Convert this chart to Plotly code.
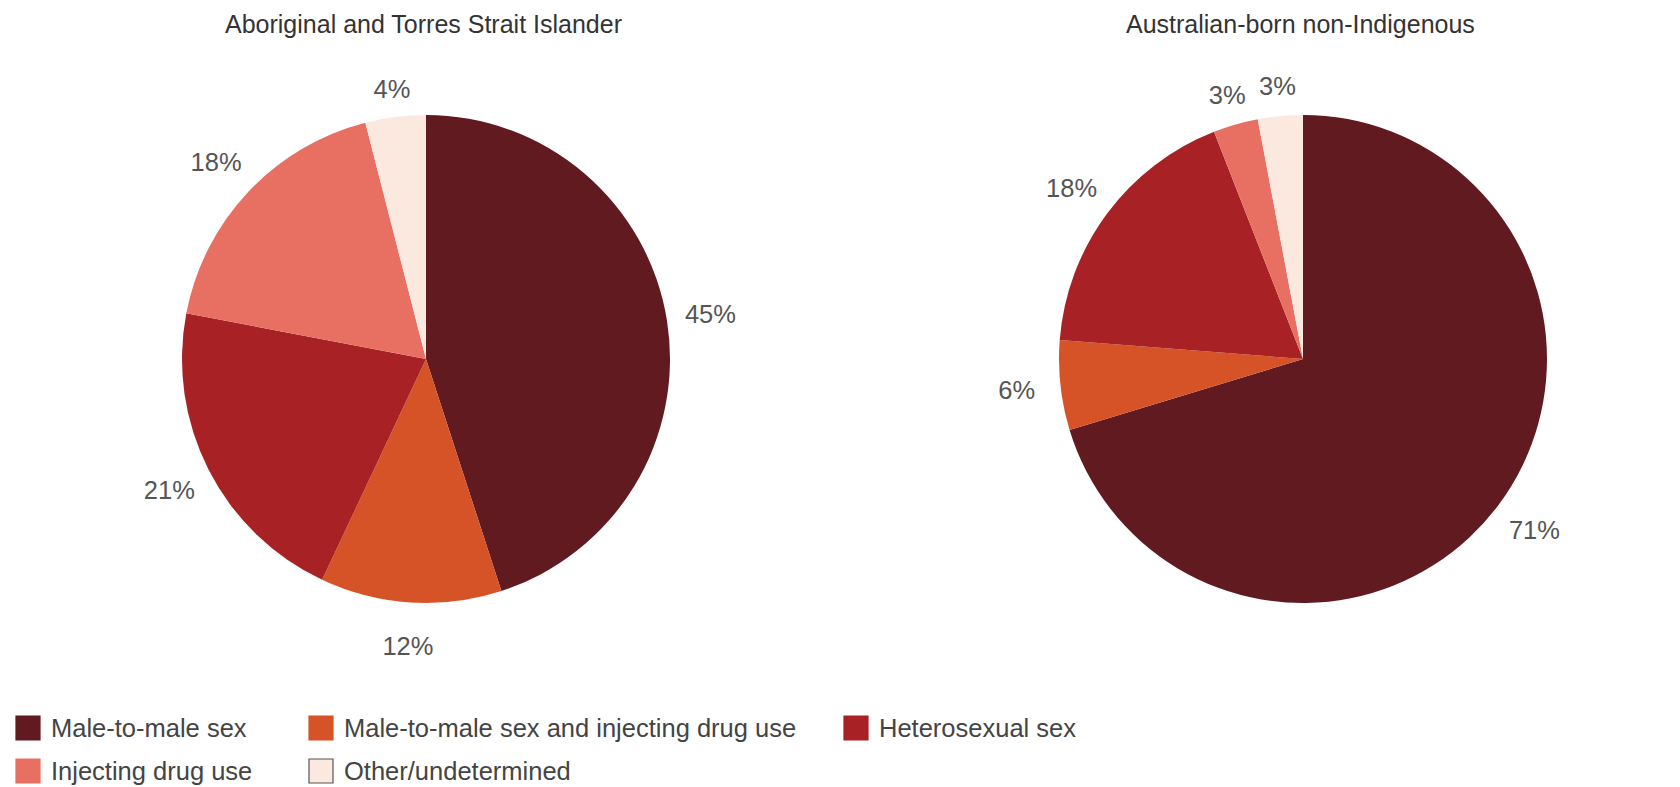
import plotly.graph_objects as go

# Exposure categories and their colours
categories = [
    "Male-to-male sex",
    "Male-to-male sex and injecting drug use",
    "Heterosexual sex",
    "Injecting drug use",
    "Other/undetermined",
]
colors = ["#611A1F", "#D65327", "#A82124", "#E87063", "#FBE8DF"]

# Percent of diagnoses by exposure category
indigenous_pct = [45, 12, 21, 18, 4]
non_indigenous_pct = [71, 6, 18, 3, 3]

panel_titles = ["Aboriginal and Torres Strait Islander", "Australian-born non-Indigenous"]

W, H = 1680, 787
FONT = "Liberation Sans, Arial, Helvetica, sans-serif"
LABEL_SIZE = 25.5

PIE_R = 244          # radius of the coloured pies (px)
LABEL_R = 332        # outer radius of the label ring for regular slices (px)
LABEL_R_SMALL = 300  # tighter ring for thin slices, so their labels sit close in
SMALL = 5            # slices under this percentage use the tighter ring
CY = 359             # vertical centre of both pies (px from top)


def box(cx, r):
    """Square domain (paper coords) of radius r around (cx, CY)."""
    return dict(x=[(cx - r) / W, (cx + r) / W],
                y=[1 - (CY + r) / H, 1 - (CY - r) / H])


def label_ring(values, cx, outer, keep):
    """Transparent ring around the pie that carries the percentage labels."""
    return go.Pie(
        values=values,
        labels=categories,
        sort=False,
        direction="clockwise",
        rotation=0,
        hole=PIE_R / outer,
        marker=dict(colors=["rgba(0,0,0,0)"] * len(values), line=dict(width=0)),
        text=[f"{v}%" if keep(v) else "" for v in values],
        textinfo="text",
        textposition="inside",
        insidetextorientation="horizontal",
        insidetextfont=dict(family=FONT, size=LABEL_SIZE, color="#555555"),
        domain=box(cx, outer),
        showlegend=False,
        hoverinfo="skip",
    )


def pie_group(values, cx):
    body = go.Pie(
        values=values,
        labels=categories,
        sort=False,
        direction="clockwise",
        rotation=0,
        marker=dict(colors=colors, line=dict(width=0)),
        textinfo="none",
        domain=box(cx, PIE_R),
        showlegend=False,
        hoverinfo="label+value",
    )
    return [
        body,
        label_ring(values, cx, LABEL_R, lambda v: v >= SMALL),
        label_ring(values, cx, LABEL_R_SMALL, lambda v: v < SMALL),
    ]


fig = go.Figure(pie_group(indigenous_pct, 426) + pie_group(non_indigenous_pct, 1303))

annotations = []
# Panel titles
for title, cx in zip(panel_titles, [423, 1300]):
    annotations.append(dict(
        text=title, x=cx / W, y=1 - 24 / H, xref="paper", yref="paper",
        xanchor="center", yanchor="middle", showarrow=False,
        font=dict(family=FONT, size=25, color="#333333"),
    ))

# Legend laid out in two rows beneath the pies
legend_slots = [(16, 728), (309, 728), (844, 728), (16, 771), (309, 771)]
shapes = []
for name, col, (sx, sy) in zip(categories, colors, legend_slots):
    edge = "#555555" if name == "Other/undetermined" else col
    shapes.append(dict(
        type="rect", xref="paper", yref="paper",
        x0=sx / W, x1=(sx + 24) / W,
        y0=1 - (sy + 12) / H, y1=1 - (sy - 12) / H,
        fillcolor=col, line=dict(color=edge, width=1.2),
    ))
    annotations.append(dict(
        text=name, x=(sx + 33) / W, y=1 - sy / H, xref="paper", yref="paper",
        xanchor="left", yanchor="middle", showarrow=False,
        font=dict(family=FONT, size=25.5, color="#444444"),
    ))

fig.update_layout(
    width=W, height=H,
    margin=dict(l=0, r=0, t=0, b=0),
    paper_bgcolor="white", plot_bgcolor="white",
    uniformtext=dict(minsize=LABEL_SIZE, mode="show"),
    annotations=annotations, shapes=shapes,
    showlegend=False,
)

fig.write_html("out.html")
